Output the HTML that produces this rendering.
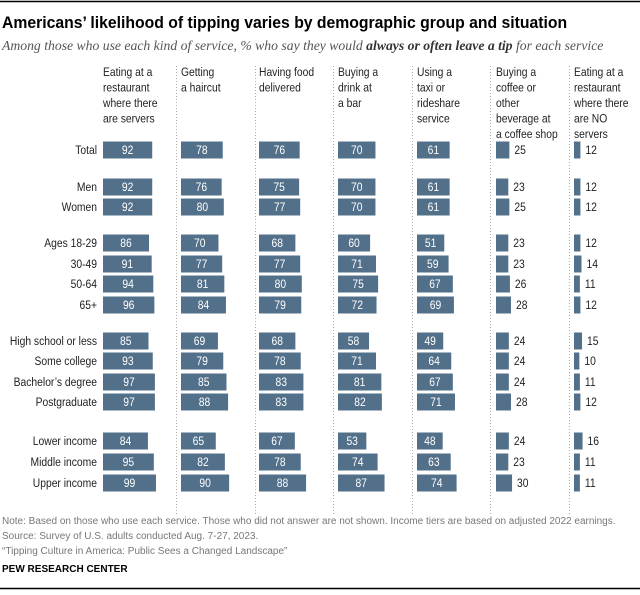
<!DOCTYPE html>
<html><head><meta charset="utf-8"><style>
body{margin:0;background:#fff;}
svg text{font-family:"Liberation Sans",Arial,sans-serif;}
</style></head><body>
<svg width="640" height="590" viewBox="0 0 640 590">
<line x1="0" y1="1.5" x2="640" y2="1.5" stroke="#000" stroke-width="1.5"/>
<text x="2" y="28" font-size="17" font-weight="bold" fill="#000" transform="translate(2,0) scale(0.927,1) translate(-2,0)">Americans’ likelihood of tipping varies by demographic group and situation</text>
<text x="2" y="50" font-size="13.7" font-style="italic" fill="#555" style="font-family:'Liberation Serif',serif">Among those who use each kind of service, % who say they would <tspan font-weight="bold" fill="#333">always or often leave a tip</tspan> for each service</text>
<g id="g"></g>
<text x="2" y="524" font-size="10" fill="#777">Note: Based on those who use each service. Those who did not answer are not shown. Income tiers are based on adjusted 2022 earnings.</text>
<text x="2" y="539" font-size="10" fill="#777">Source: Survey of U.S. adults conducted Aug. 7-27, 2023.</text>
<text x="2" y="554" font-size="10" fill="#777">“Tipping Culture in America: Public Sees a Changed Landscape”</text>
<text x="2" y="572" font-size="10" font-weight="bold" fill="#000">PEW RESEARCH CENTER</text>
<line x1="0" y1="588.5" x2="640" y2="588.5" stroke="#000" stroke-width="1.5"/>
</svg>
<script>
const categories=["Total","Men","Women","Ages 18-29","30-49","50-64","65+","High school or less","Some college","Bachelor’s degree","Postgraduate","Lower income","Middle income","Upper income"];
const rowY=[150,187,207,243,264,284,305,341,361,382,402,441,462,483];
const headers=[["Eating at a","restaurant","where there","are servers"],["Getting","a haircut"],["Having food","delivered"],["Buying a","drink at","a bar"],["Using a","taxi or","rideshare","service"],["Buying a","coffee or","other","beverage at","a coffee shop"],["Eating at a","restaurant","where there","are NO","servers"]];
const restaurant=[92,92,92,86,91,94,96,85,93,97,97,84,95,99];
const haircut=[78,76,80,70,77,81,84,69,79,85,88,65,82,90];
const food=[76,75,77,68,77,80,79,68,78,83,83,67,78,88];
const bar=[70,70,70,60,71,75,72,58,71,81,82,53,74,87];
const taxi=[61,61,61,51,59,67,69,49,64,67,71,48,63,74];
const coffee=[25,23,25,23,23,26,28,24,24,24,28,24,23,30];
const noServers=[12,12,12,12,14,11,12,15,10,11,12,16,11,11];
const series=[restaurant,haircut,food,bar,taxi,coffee,noServers];
const colX=[103,181,259,338,417,496,574];
const sepX=[176,255,333,412,490,569];
const scale=0.535, bh=17, sx=0.86;
const NS="http://www.w3.org/2000/svg";
const g=document.getElementById('g');
function mk(t,a,txt){const e=document.createElementNS(NS,t);for(const k in a)e.setAttribute(k,a[k]);if(txt!==undefined)e.textContent=txt;g.appendChild(e);return e;}
function txt(x,y,s,attrs){const a=Object.assign({x:0,y:0,transform:`translate(${x},${y}) scale(${sx},1)`,'font-size':12},attrs);return mk('text',a,s);}
sepX.forEach((x,i)=>{const e=mk('line',{x1:x+0.5,y1:66,x2:x+0.5,y2:515,stroke:'#aaa','stroke-dasharray':'1,2'});

});
headers.forEach((h,i)=>h.forEach((l,j)=>{const e=txt(colX[i],76+j*15.5,l,{fill:'#222'});

}));
categories.forEach((c,r)=>{const e=txt(97,rowY[r]+4,c,{fill:'#222','text-anchor':'end'});

});
series.forEach((s,i)=>s.forEach((v,r)=>{const w=v*scale;
const b=mk('rect',{x:colX[i],y:rowY[r]-bh/2,width:w,height:bh,fill:'#52708a'});


const inside=v>=40;
const t=txt(inside?colX[i]+w/2:colX[i]+w+5,rowY[r]+4,String(v),{fill:inside?'#fff':'#222','text-anchor':inside?'middle':'start'});

}));
</script>
</body></html>
